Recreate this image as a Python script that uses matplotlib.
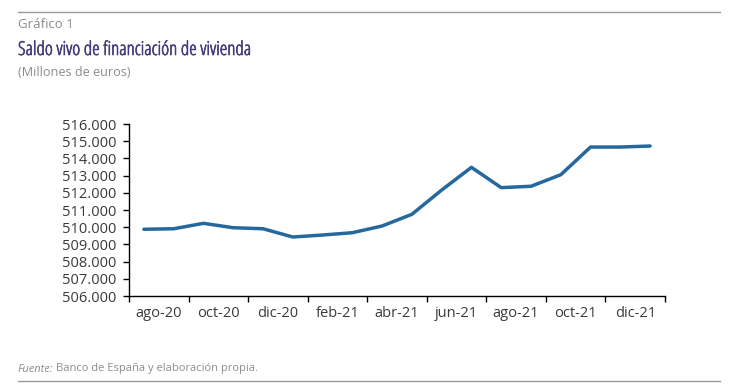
import matplotlib
matplotlib.use("Agg")
import matplotlib.pyplot as plt
import matplotlib.patheffects as pe
from matplotlib.ticker import FuncFormatter, FixedLocator
import numpy as np

plt.rcParams['font.family'] = ['Open Sans', 'DejaVu Sans']

months = ["ago-20", "sep-20", "oct-20", "nov-20", "dic-20", "ene-21", "feb-21", "mar-21",
          "abr-21", "may-21", "jun-21", "jul-21", "ago-21", "sep-21", "oct-21", "nov-21",
          "dic-21", "ene-22"]
values = [509880, 509910, 510225, 509970, 509910, 509430, 509545, 509680,
          510070, 510750, 512160, 513480, 512300, 512380, 513050, 514660,
          514660, 514720]
y_ticks = list(range(506000, 516001, 1000))

fig = plt.figure(figsize=(7.30, 3.92), dpi=100)
W, H = 730, 392
ax = fig.add_axes([129 / W, 1 - 296 / H, (665 - 129) / W, (296 - 124) / H])

x = np.arange(len(months))
ax.plot(x, values, color="#25689d", lw=2.5, solid_joinstyle="round", solid_capstyle="round")

ax.set_xlim(-0.5, len(months) - 0.5)
ax.set_ylim(506000, 516000)
ax.set_yticks(y_ticks)
ax.yaxis.set_major_formatter(FuncFormatter(lambda v, p: f"{int(v):,}".replace(",", ".")))

ax.xaxis.set_major_locator(FixedLocator(np.arange(-0.5, len(months), 2)))
ax.xaxis.set_major_formatter(FuncFormatter(lambda v, p: ""))
ax.xaxis.set_minor_locator(FixedLocator(np.arange(0.5, len(months), 2)))
ax.set_xticklabels([months[i] for i in range(0, len(months), 2)], minor=True)
ax.tick_params(axis="x", which="minor", length=0, pad=7)
ax.tick_params(axis="x", which="major", length=4, width=1, color="black")
ax.tick_params(axis="y", length=4, width=1, color="black", pad=5)
ax.tick_params(axis="both", which="both", labelsize=10.5, labelcolor="#3a3a3a")

for s in ["top", "right"]:
    ax.spines[s].set_visible(False)
for s in ["left", "bottom"]:
    ax.spines[s].set_color("black")
    ax.spines[s].set_linewidth(1)

# Header / footer
fig.add_artist(plt.Line2D([18 / W, 720 / W], [1 - 12 / H, 1 - 12 / H], color="#999999", lw=1))
fig.add_artist(plt.Line2D([18 / W, 720 / W], [1 - 381 / H, 1 - 381 / H], color="#999999", lw=1))
fig.text(18 / W, 1 - 25 / H, "Gráfico 1", color="#8c8c8c", fontsize=9.5, va="center", ha="left")
title_color = "#443b78"
fig.text(18 / W, 1 - 50 / H, "Saldo vivo de financiación de vivienda", color=title_color,
         fontsize=13.8, va="center", ha="left", fontstretch="condensed",
         path_effects=[pe.withStroke(linewidth=0.45, foreground=title_color)])
fig.text(18 / W, 1 - 72 / H, "(Millones de euros)", color="#8c8c8c", fontsize=9.1, va="center", ha="left")
t1 = fig.text(18 / W, 1 - 369 / H, "Fuente:", color="#8c8c8c", fontsize=8, va="center",
              ha="left", style="italic")
fig.canvas.draw()
bb = t1.get_window_extent()
fig.text((bb.x1 + 3) / W, 1 - 369 / H, "Banco de España y elaboración propia.", color="#8c8c8c",
         fontsize=8, va="center", ha="left")

fig.savefig("out.png", dpi=100)
